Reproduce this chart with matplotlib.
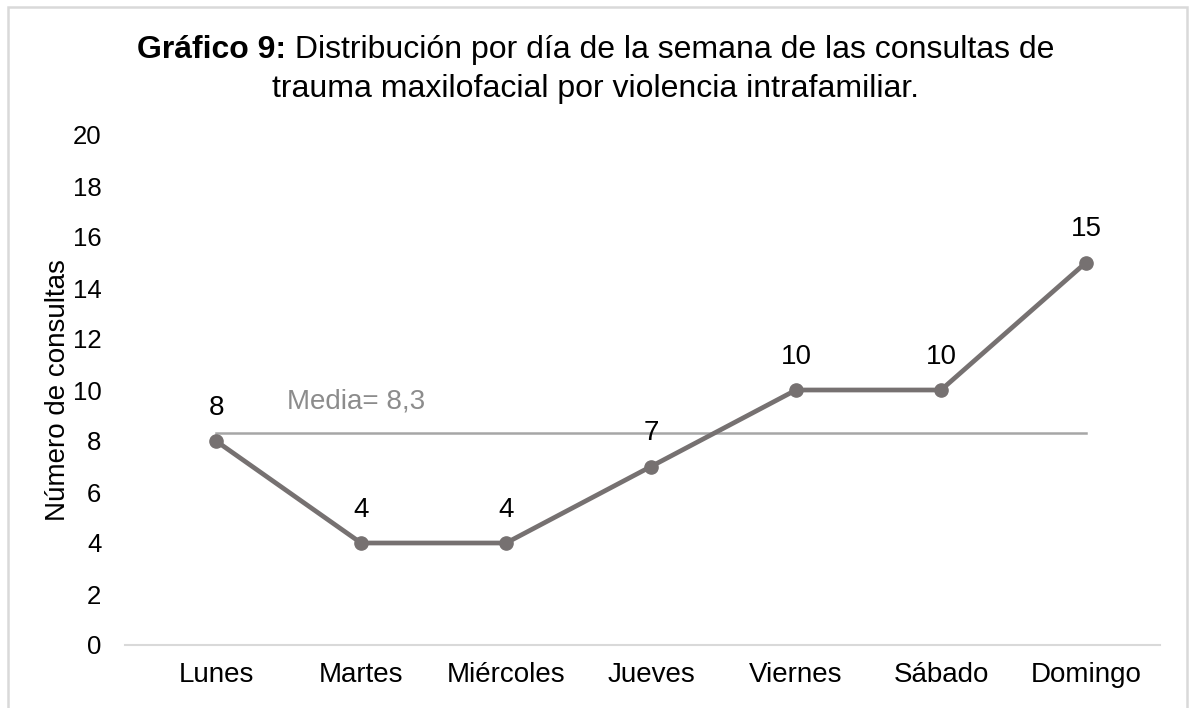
import matplotlib
matplotlib.use("Agg")
import matplotlib.pyplot as plt
from matplotlib.patches import Rectangle

plt.rcParams["font.family"] = ["Liberation Sans", "DejaVu Sans"]

dias = ["Lunes", "Martes", "Miércoles", "Jueves", "Viernes", "Sábado", "Domingo"]
consultas = [8, 4, 4, 7, 10, 10, 15]
media = 8.3
media_label = "Media= 8,3"
y_ticks = list(range(0, 21, 2))

FS = 20

fig = plt.figure(figsize=(11.91, 7.08), dpi=100)
ax = fig.add_axes([125 / 1191, 1 - 645 / 708, (1160 - 125) / 1191, (645 - 135) / 708])

x = list(range(len(dias)))

# mean line
ax.plot([x[0], x[-1]], [media, media], color="#a6a6a6", linewidth=1.8, zorder=2)
ax.text(0.49, media + 1.25, media_label, color="#8c8c8c", fontsize=FS, ha="left", va="center")

# main series
ax.plot(x, consultas, color="#767171", linewidth=3.4, marker="o", markersize=9.5,
        solid_capstyle="round", zorder=3)
for xi, yi in zip(x, consultas):
    ax.annotate(str(yi), (xi, yi), xytext=(0, 24), textcoords="offset points",
                ha="center", va="center", fontsize=FS, color="black")

ax.set_xlim(-0.628, 6.51)
ax.set_ylim(0, 20)
ax.set_yticks(y_ticks)
ax.set_xticks(x)
ax.set_xticklabels(dias)
ax.tick_params(axis="both", length=0, colors="black")
ax.tick_params(axis="x", pad=12, labelsize=FS)
ax.tick_params(axis="y", pad=17, labelsize=18.5)
for s in ["top", "right", "left"]:
    ax.spines[s].set_visible(False)
ax.spines["bottom"].set_color("#d9d9d9")
ax.spines["bottom"].set_linewidth(1.5)
ax.set_ylabel("Número de consultas", fontsize=FS, labelpad=1)

# title: bold part + regular part on first line
fig.canvas.draw()
r = fig.canvas.get_renderer()
bold = "Gráfico 9:"
rest1 = " Distribución por día de la semana de las consultas de"
t1 = fig.text(0, 1 - 50 / 708, bold, fontsize=23, fontweight="bold", va="center", ha="left")
t2 = fig.text(0, 1 - 50 / 708, rest1, fontsize=23, va="center", ha="left")
w1 = t1.get_window_extent(r).width
w2 = t2.get_window_extent(r).width
start = (1191 - (w1 + w2)) / 2
t1.set_x(start / 1191)
t2.set_x((start + w1) / 1191)
fig.text(0.5, 1 - 89 / 708, "trauma maxilofacial por violencia intrafamiliar.",
         fontsize=23, va="center", ha="center")

# outer frame
fig.patches.append(Rectangle((8 / 1191, -0.02), (1187 - 8) / 1191, 1.02 - 7 / 708,
                             transform=fig.transFigure, fill=False,
                             edgecolor="#d9d9d9", linewidth=1.8))

fig.savefig("out.png", dpi=100)
